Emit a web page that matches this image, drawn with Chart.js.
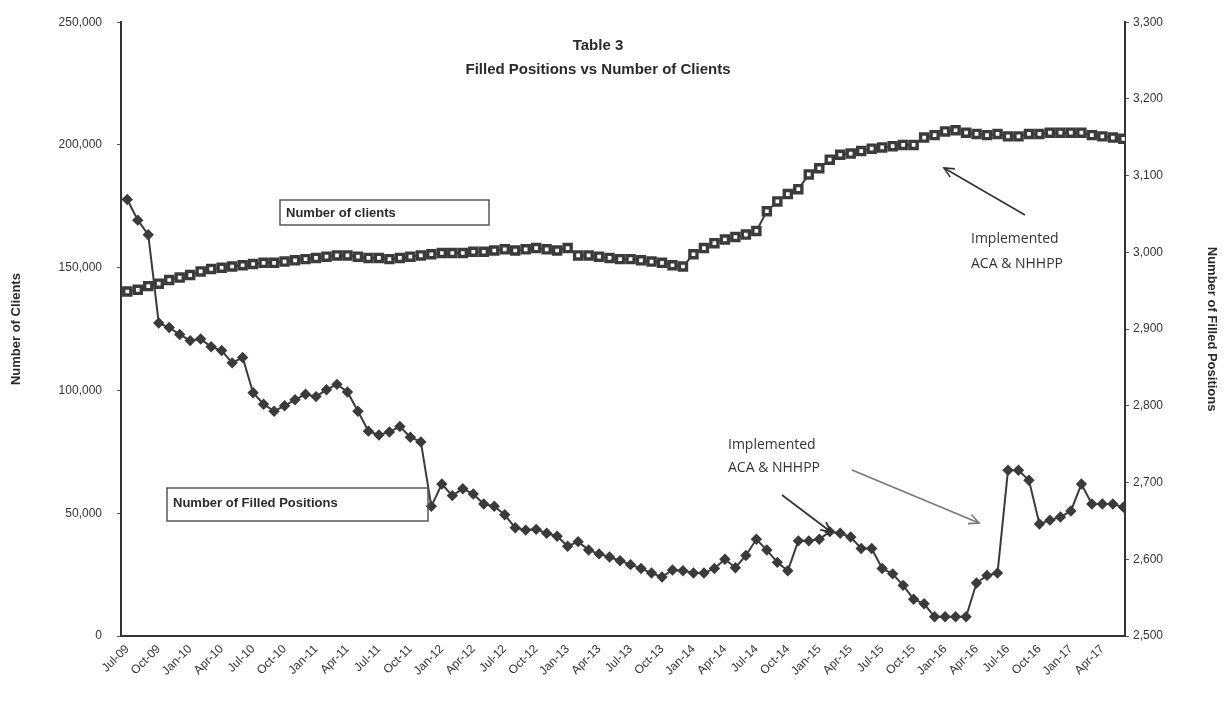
<!DOCTYPE html>
<html>
<head>
<meta charset="utf-8">
<script src="https://cdn.jsdelivr.net/npm/chart.js@4.4.1/dist/chart.umd.min.js"></script>
<style>
  html, body { margin: 0; padding: 0; background: #fff; }
  #wrap { width: 1225px; height: 704px; }
</style>
</head>
<body>
<div id="wrap"><canvas id="c" width="1225" height="704"></canvas></div>
<script>
// ---- Data ----
const monthNames = ['Jul','Aug','Sep','Oct','Nov','Dec','Jan','Feb','Mar','Apr','May','Jun'];
const categories = [];
for (let i = 0; i < 96; i++) {
  const m = monthNames[i % 12];
  const yr = 9 + Math.floor((i + 6) / 12);
  categories.push(m + '-' + String(yr).padStart(2, '0'));
}

const clients = [
  140300, 141000, 142500, 143500, 145000, 146000, 147000, 148500, 149500, 150000,
  150500, 151000, 151500, 152000, 152000, 152500, 153000, 153500, 154000, 154500,
  155000, 155000, 154500, 154000, 154000, 153500, 154000, 154500, 155000, 155500,
  156000, 156000, 156000, 156500, 156500, 157000, 157500, 157000, 157500, 158000,
  157500, 157000, 158000, 155000, 155000, 154500, 154000, 153500, 153500, 153000,
  152500, 152000, 151000, 150500, 155500, 158000, 160000, 161500, 162500, 163500,
  165000, 173000, 177000, 180000, 182000, 188000, 190500, 194000, 196000, 196500,
  197500, 198500, 199000, 199500, 200000, 200000, 203000, 204000, 205500, 206000,
  205000, 204500, 204000, 204500, 203500, 203500, 204500, 204500, 205000, 205000,
  205000, 205000, 204000, 203500, 203000, 202500
];

const filledPositions = [
  3069, 3042, 3023, 2908, 2902, 2893, 2885, 2887, 2877, 2872,
  2856, 2863, 2817, 2802, 2793, 2800, 2808, 2815, 2812, 2821,
  2828, 2818, 2793, 2767, 2762, 2766, 2773, 2759, 2753, 2669,
  2698, 2683, 2692, 2685, 2672, 2669, 2658, 2641, 2638, 2639,
  2634, 2630, 2617, 2623, 2612, 2607, 2603, 2598, 2593, 2588,
  2582, 2577, 2586, 2585, 2582, 2582, 2588, 2600, 2589, 2605,
  2626, 2612, 2596, 2585, 2624, 2624, 2626, 2636, 2634, 2629,
  2614, 2614, 2588, 2581, 2566, 2548, 2542, 2525, 2525, 2525,
  2525, 2569, 2579, 2582, 2716, 2716, 2703, 2646, 2651, 2655,
  2663, 2698, 2672, 2672, 2672, 2668
];

const leftTicks = [0, 50000, 100000, 150000, 200000, 250000];
const rightTicks = [2500, 2600, 2700, 2800, 2900, 3000, 3100, 3200, 3300];
const tickEvery = 3;

// ---- Chart ----
const ink = '#3b3b3b';
const fontFam = "'Liberation Sans', Arial, sans-serif";

function arrow(ctx, x1, y1, x2, y2, color, w) {
  ctx.save();
  ctx.strokeStyle = color;
  ctx.lineWidth = w;
  ctx.beginPath();
  ctx.moveTo(x1, y1);
  ctx.lineTo(x2, y2);
  ctx.stroke();
  const a = Math.atan2(y2 - y1, x2 - x1);
  const L = 11, s = 0.45;
  ctx.beginPath();
  ctx.moveTo(x2 - L * Math.cos(a - s), y2 - L * Math.sin(a - s));
  ctx.lineTo(x2, y2);
  ctx.lineTo(x2 - L * Math.cos(a + s), y2 - L * Math.sin(a + s));
  ctx.stroke();
  ctx.restore();
}

const annotations = {
  id: 'annotations',
  afterDraw(chart) {
    const ctx = chart.ctx;
    ctx.save();
    ctx.fillStyle = '#2a2a2a';
    ctx.textAlign = 'center';
    ctx.textBaseline = 'middle';
    ctx.font = "bold 15px " + fontFam;
    ctx.fillText('Table 3', 598, 46);
    ctx.fillText('Filled Positions vs Number of Clients', 598, 70);

    // label boxes
    ctx.strokeStyle = '#555';
    ctx.lineWidth = 1.5;
    ctx.strokeRect(280, 200, 209, 25);
    ctx.strokeRect(167, 488, 261, 33);
    ctx.textAlign = 'left';
    ctx.font = "bold 13px " + fontFam;
    ctx.fillText('Number of clients', 286, 213);
    ctx.fillText('Number of Filled Positions', 173, 503);

    // Implemented notes
    ctx.font = "14px 'Open Sans', 'Noto Sans', sans-serif";
    ctx.fillStyle = '#333';
    ctx.fillText('Implemented', 971, 239);
    ctx.fillText('ACA & NHHPP', 971, 264);
    ctx.fillText('Implemented', 728, 445);
    ctx.fillText('ACA & NHHPP', 728, 468);

    arrow(ctx, 1025, 215, 944, 168, '#333', 1.6);
    arrow(ctx, 782, 495, 831, 532, '#333', 1.8);
    arrow(ctx, 852, 470, 979, 523, '#777', 1.6);
    ctx.restore();
  }
};

new Chart(document.getElementById('c'), {
  type: 'line',
  data: {
    datasets: [
      {
        label: 'Number of clients',
        data: clients.map((v, i) => ({ x: i, y: v })),
        yAxisID: 'y',
        borderColor: ink,
        borderWidth: 2,
        pointStyle: 'rect',
        pointRadius: 5,
        pointBorderWidth: 3.4,
        pointBackgroundColor: '#ffffff',
        pointBorderColor: ink,
        tension: 0
      },
      {
        label: 'Number of Filled Positions',
        data: filledPositions.map((v, i) => ({ x: i, y: v })),
        yAxisID: 'y1',
        borderColor: ink,
        borderWidth: 2,
        pointStyle: 'rectRot',
        pointRadius: 4.3,
        pointBackgroundColor: ink,
        pointBorderColor: ink,
        tension: 0
      }
    ]
  },
  options: {
    responsive: false,
    animation: false,
    layout: { padding: { top: 14, left: 0, right: 0, bottom: 0 } },
    plugins: { legend: { display: false }, tooltip: { enabled: false } },
    scales: {
      x: {
        type: 'linear',
        min: -0.6,
        max: 95.16,
        afterFit(s) { s.height = 68; },
        afterBuildTicks(s) {
          const t = [];
          for (let i = 0; i < categories.length; i += tickEvery) t.push({ value: i });
          s.ticks = t;
        },
        grid: { display: true, drawOnChartArea: false, drawTicks: false },
        border: { display: true, color: '#333', width: 2 },
        ticks: {
          autoSkip: false,
          minRotation: 45,
          maxRotation: 45,
          padding: 6,
          color: '#333',
          font: { family: fontFam, size: 12 },
          callback: (v) => categories[v]
        }
      },
      y: {
        position: 'left',
        min: 0,
        max: 250000,
        afterFit(s) { s.width = 121; },
        afterBuildTicks(s) { s.ticks = leftTicks.map(v => ({ value: v })); },
        grid: { display: true, drawOnChartArea: false, drawTicks: true, tickLength: 4, color: '#555' },
        border: { display: true, color: '#333', width: 2 },
        ticks: {
          padding: 15,
          color: '#333',
          font: { family: fontFam, size: 12 },
          callback: (v) => v.toLocaleString('en-US')
        },
        title: {
          display: true,
          text: 'Number of Clients',
          color: '#2a2a2a',
          font: { family: fontFam, size: 13, weight: 'bold' },
          padding: { top: 9, bottom: 0 }
        }
      },
      y1: {
        position: 'right',
        min: 2500,
        max: 3300,
        afterFit(s) { s.width = 100; },
        afterBuildTicks(s) { s.ticks = rightTicks.map(v => ({ value: v })); },
        grid: { display: true, drawOnChartArea: false, drawTicks: true, tickLength: 4, color: '#555' },
        border: { display: true, color: '#333', width: 2 },
        ticks: {
          padding: 4,
          color: '#333',
          font: { family: fontFam, size: 12 },
          callback: (v) => v.toLocaleString('en-US')
        },
        title: {
          display: true,
          text: 'Number of Filled Positions',
          color: '#2a2a2a',
          font: { family: fontFam, size: 13, weight: 'bold' },
          padding: { top: 6, bottom: 0 }
        }
      }
    }
  },
  plugins: [annotations]
});
</script>
</body>
</html>
